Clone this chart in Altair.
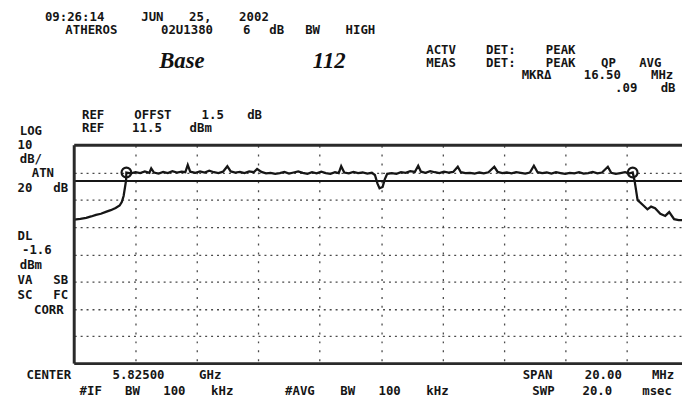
import altair as alt
import pandas as pd

# ---------------- data ----------------
TRACE_MHZ = [
    -10.00, -9.80, -9.61, -9.45, -9.29, -9.13, -8.97, -8.81, -8.65, -8.52, -8.45, -8.39, -8.31,
    -8.30, -8.15, -8.00, -7.85, -7.70, -7.55, -7.49, -7.40, -7.25, -7.10, -6.95, -6.80, -6.65,
    -6.50, -6.38, -6.30, -6.22, -6.05, -5.90, -5.75, -5.60, -5.45, -5.30, -5.15, -5.01, -4.90,
    -4.75, -4.60, -4.45, -4.30, -4.15, -4.04, -3.90, -3.75, -3.60, -3.45, -3.30, -3.15, -3.00,
    -2.85, -2.70, -2.55, -2.40, -2.25, -2.10, -1.95, -1.80, -1.65, -1.50, -1.38, -1.30, -1.20,
    -1.05, -0.90, -0.75, -0.60, -0.45, -0.30, -0.20, -0.12, -0.05, 0.05, 0.12, 0.20, 0.35,
    0.50, 0.65, 0.80, 0.95, 1.10, 1.21, 1.30, 1.45, 1.60, 1.75, 1.90, 2.05, 2.20, 2.35, 2.50,
    2.60, 2.75, 2.90, 3.05, 3.20, 3.35, 3.50, 3.69, 3.80, 3.95, 4.10, 4.25, 4.40, 4.55, 4.70,
    4.85, 4.98, 5.10, 5.25, 5.40, 5.55, 5.70, 5.85, 6.00, 6.15, 6.30, 6.45, 6.60, 6.75, 6.90,
    7.05, 7.20, 7.39, 7.50, 7.65, 7.80, 7.95, 8.10, 8.20,
    8.26, 8.36, 8.55, 8.68, 8.80, 8.93, 9.10, 9.26, 9.39, 9.55, 9.70, 9.85,
]
TRACE_DBM = [
    -15.8, -15.5, -15.1, -14.6, -14.0, -13.6, -12.9, -12.3, -11.5, -10.6, -9.3, -7.1, -1.4,
    1.5, 1.2, 1.6, 1.3, 1.9, 1.4, 3.0, 1.5, 1.1, 1.7, 1.3, 2.0, 1.5,
    1.8, 1.6, 4.3, 1.8, 1.4, 1.9, 1.5, 2.2, 1.6, 1.3, 1.8, 3.8, 1.9,
    1.5, 1.7, 1.3, 1.9, 1.6, 2.8, 1.7, 1.2, 1.4, 1.0, 1.3, 1.7, 1.1,
    1.5, 1.9, 1.4, 1.0, 1.6, 1.2, 1.8, 1.3, 1.0, 1.6, 1.3, 3.8, 1.5,
    1.2, 1.7, 1.3, 1.5, 1.1, 1.4, 0.6, -2.5, -4.3, -3.8, -1.0, 1.0, 1.3,
    1.0, 1.6, 1.4, 2.0, 1.7, 4.0, 1.8, 1.4, 2.0, 1.6, 1.3, 1.8, 1.5, 1.7, 3.6,
    1.6, 1.3, 1.4, 1.1, 1.5, 1.2, 1.6, 3.6, 1.7, 1.3, 1.5, 1.2, 1.6, 1.4, 1.1,
    1.5, 4.0, 1.6, 1.3, 1.5, 1.1, 1.6, 1.3, 1.0, 1.4, 1.2, 1.6, 1.1, 1.3, 1.7,
    1.2, 1.5, 3.6, 1.4, 1.0, 1.3, 1.6, 1.2, 1.5,
    -1.4, -8.6, -10.6, -12.0, -11.0, -11.6, -13.6, -14.4, -13.0, -15.6, -15.9, -15.9,
]
MARKER_MHZ = [-8.30, 8.20]
MARKER_DBM = [1.5, 1.5]
DL_DBM = [-1.6]
REF_DBM = 11.5
BOTTOM_DBM = -68.5
LEFT_MHZ = -10.0
X_GRID = [-8, -6, -4, -2, 0, 2, 4, 6, 8]
Y_GRID = [1.5, -8.5, -18.5, -28.5, -38.5, -48.5, -58.5]

HEADER = ["09:26:14 JUN 25, 2002", "ATHEROS 02U1380 6 dB BW HIGH"]
DET = ["ACTV DET: PEAK", "MEAS DET: PEAK QP AVG"]
MKR = ["MKR\u0394 16.50 MHz", ".09 dB"]
REF = ["REF OFFST 1.5 dB", "REF 11.5 dBm"]
LEFT_TOP = ["LOG", "10", "dB/", " ATN", "20 dB"]
LEFT_BOT = ["DL", "-1.6", "dBm", "VA SB", "SC FC", " CORR"]
BOTTOM_L = ["CENTER 5.82500 GHz", "     #IF BW 100 kHz   #AVG BW 100 kHz"]
BOTTOM_R = ["SPAN 20.00 MHz", "SWP 20.0 msec"]
HAND = ["Base", "112"]

# ---------------- layout (page pixels) ----------------
PLOT_X0, PLOT_Y0 = 75.0, 144.5
PLOT_W, PLOT_H = 615, 221
PX_PER_MHZ = 31.05
PX_PER_DB = PLOT_H / 80.0
PITCH = 12.1
FONT_SIZE = 12.5


def to_mhz(px):
    return -10.0 + (px - PLOT_X0) / PX_PER_MHZ


def to_dbm(py):
    return REF_DBM - (py - PLOT_Y0) / PX_PER_DB


rows = []


def place(lines, x, baselines, right=False):
    for line, base in zip(lines, baselines):
        x0 = x - len(line) * PITCH if right else x
        i = 0
        for word in line.split(" "):
            if word:
                cx = x0 + (i + len(word) / 2.0) * PITCH
                rows.append({"mhz": to_mhz(cx), "dbm": to_dbm(base), "word": word})
            i += len(word) + 1


place(HEADER[:1], 27, [18.5])
place(HEADER[1:], 50, [32])
place(DET, 422, [52, 65])
place(MKR, 688, [78, 91], right=True)
place(REF, 76, [117.5, 131])
place(LEFT_TOP, 13, [134.5, 148, 162.5, 177, 191.5])
place(LEFT_BOT, 13, [240, 255, 270, 285, 300, 315])
place(BOTTOM_L, 13, [381, 397])
place(BOTTOM_R, 689, [381, 397], right=True)

text_df = pd.DataFrame(rows)
hand_df = pd.DataFrame({"mhz": [to_mhz(184), to_mhz(333)], "dbm": [to_dbm(66), to_dbm(66)], "word": HAND})

trace_df = pd.DataFrame({"mhz": TRACE_MHZ, "dbm": TRACE_DBM})
marker_df = pd.DataFrame({"mhz": MARKER_MHZ, "dbm": MARKER_DBM})
dl_df = pd.DataFrame({"dbm": DL_DBM})
hframe_df = pd.DataFrame({"dbm": [REF_DBM, BOTTOM_DBM]})
vframe_df = pd.DataFrame({"mhz": [LEFT_MHZ]})

INK = "#161616"

X = alt.X(
    "mhz:Q",
    scale=alt.Scale(domain=[-10, to_mhz(PLOT_X0 + PLOT_W)], nice=False, zero=False),
    axis=alt.Axis(values=X_GRID, grid=True, gridDash=[2, 7], gridColor="#4a4a4a", gridWidth=1.3,
                  labels=False, ticks=False, domain=False, title=None),
)
Y = alt.Y(
    "dbm:Q",
    scale=alt.Scale(domain=[BOTTOM_DBM, REF_DBM], nice=False, zero=False),
    axis=alt.Axis(values=Y_GRID, grid=True, gridDash=[2, 4], gridColor="#4a4a4a", gridWidth=1.3,
                  labels=False, ticks=False, domain=False, title=None),
)

trace = alt.Chart(trace_df).mark_line(color=INK, strokeWidth=2.3, clip=True).encode(x=X, y=Y)
markers = alt.Chart(marker_df).mark_point(shape="circle", filled=False, size=95, strokeWidth=2.2,
                                          color=INK, opacity=1).encode(x=X, y=Y)
dl = alt.Chart(dl_df).mark_rule(color=INK, strokeWidth=2.2).encode(y=Y)
hframe = alt.Chart(hframe_df).mark_rule(color="#2a2a2a", strokeWidth=3).encode(y=Y)
vframe = alt.Chart(vframe_df).mark_rule(color="#2a2a2a", strokeWidth=3).encode(x=X)
texts = alt.Chart(text_df).mark_text(align="center", baseline="alphabetic", font="DejaVu Sans Mono",
                                     fontSize=FONT_SIZE, fontWeight="bold", color="#151515").encode(
    x=X, y=Y, text="word:N")
hand = alt.Chart(hand_df).mark_text(align="center", baseline="alphabetic", font="Liberation Serif",
                                    fontSize=23, fontStyle="italic", fontWeight="bold",
                                    color="#111111").encode(x=X, y=Y, text="word:N")

chart = alt.layer(trace, dl, hframe, vframe, markers, texts, hand).properties(
    width=PLOT_W, height=PLOT_H,
    autosize=alt.AutoSizeParams(type="none"),
    padding={"left": PLOT_X0 - 8, "top": PLOT_Y0 - 8, "right": 0, "bottom": 394 - (PLOT_Y0 - 8) - PLOT_H},
    background="white",
).configure_view(stroke=None)

chart.save("out.html", embed_options={"renderer": "svg", "actions": False})
